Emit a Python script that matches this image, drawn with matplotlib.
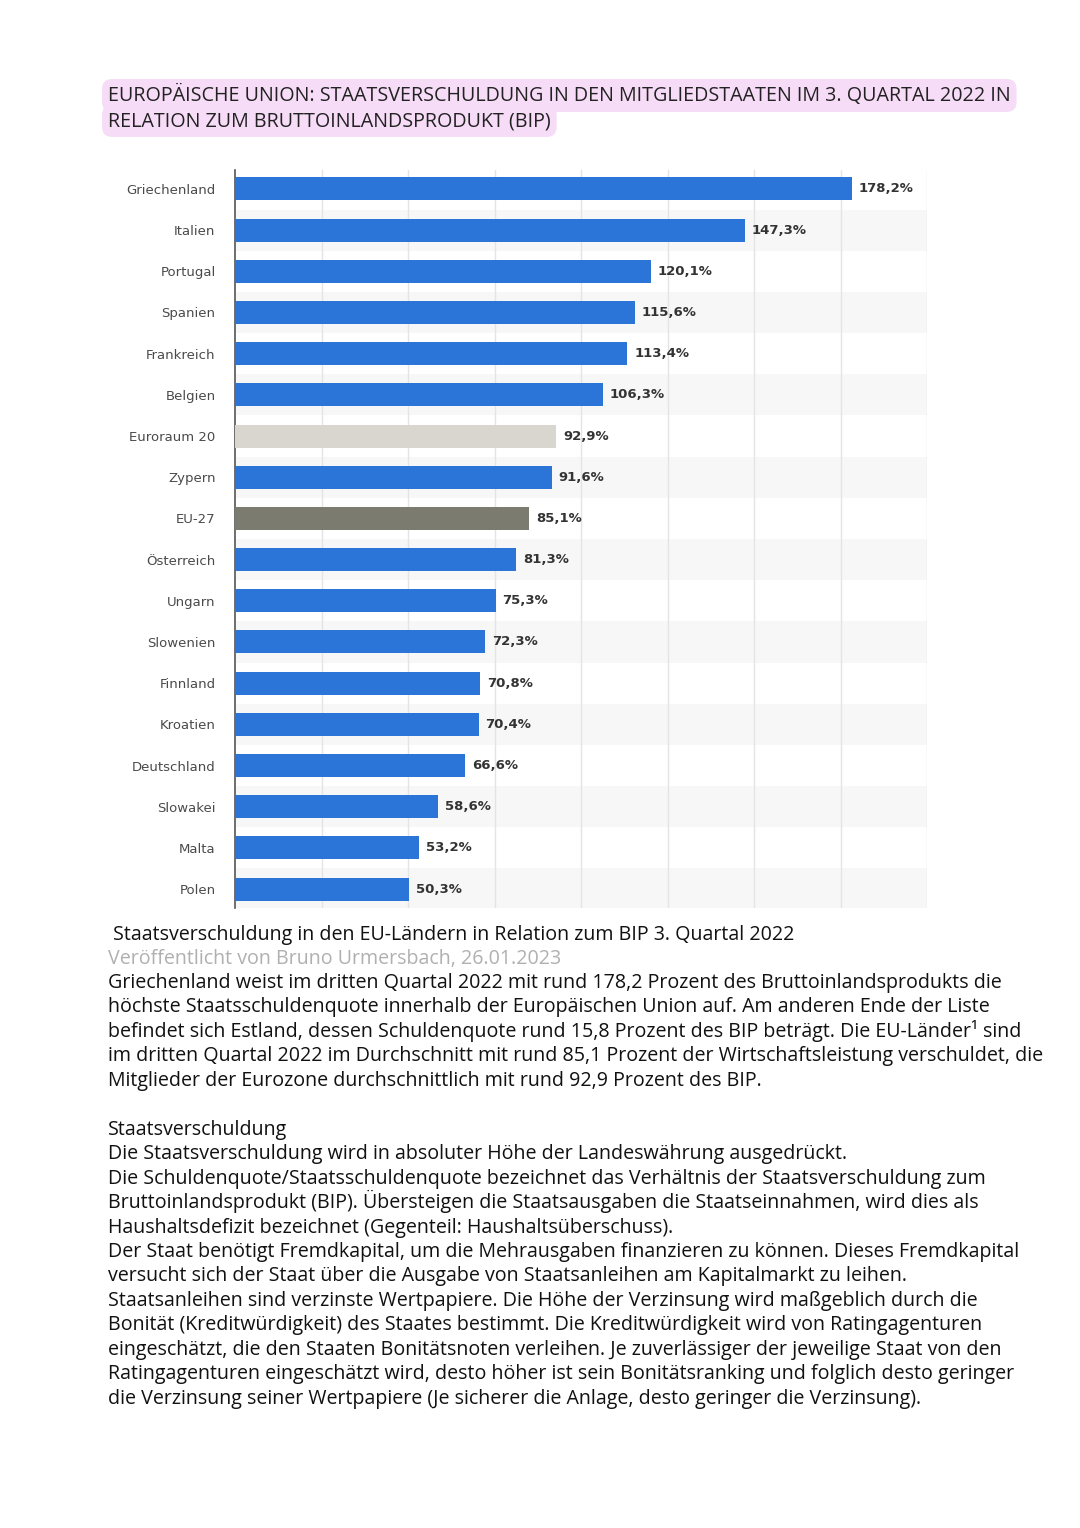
import matplotlib.pyplot as plt

countries = ["Griechenland", "Italien", "Portugal", "Spanien", "Frankreich", "Belgien",
             "Euroraum 20", "Zypern", "EU-27", "Österreich", "Ungarn", "Slowenien",
             "Finnland", "Kroatien", "Deutschland", "Slowakei", "Malta", "Polen"]
values = [178.2, 147.3, 120.1, 115.6, 113.4, 106.3, 92.9, 91.6, 85.1, 81.3,
          75.3, 72.3, 70.8, 70.4, 66.6, 58.6, 53.2, 50.3]

title_lines = ["EUROPÄISCHE UNION: STAATSVERSCHULDUNG IN DEN MITGLIEDSTAATEN IM 3. QUARTAL 2022 IN",
               "RELATION ZUM BRUTTOINLANDSPRODUKT (BIP)"]
caption = "Staatsverschuldung in den EU-Ländern in Relation zum BIP 3. Quartal 2022"
byline = "Veröffentlicht von Bruno Urmersbach, 26.01.2023"
body = [
    "Griechenland weist im dritten Quartal 2022 mit rund 178,2 Prozent des Bruttoinlandsprodukts die",
    "höchste Staatsschuldenquote innerhalb der Europäischen Union auf. Am anderen Ende der Liste",
    "befindet sich Estland, dessen Schuldenquote rund 15,8 Prozent des BIP beträgt. Die EU-Länder¹ sind",
    "im dritten Quartal 2022 im Durchschnitt mit rund 85,1 Prozent der Wirtschaftsleistung verschuldet, die",
    "Mitglieder der Eurozone durchschnittlich mit rund 92,9 Prozent des BIP.",
    "",
    "Staatsverschuldung",
    "Die Staatsverschuldung wird in absoluter Höhe der Landeswährung ausgedrückt.",
    "Die Schuldenquote/Staatsschuldenquote bezeichnet das Verhältnis der Staatsverschuldung zum",
    "Bruttoinlandsprodukt (BIP). Übersteigen die Staatsausgaben die Staatseinnahmen, wird dies als",
    "Haushaltsdefizit bezeichnet (Gegenteil: Haushaltsüberschuss).",
    "Der Staat benötigt Fremdkapital, um die Mehrausgaben finanzieren zu können. Dieses Fremdkapital",
    "versucht sich der Staat über die Ausgabe von Staatsanleihen am Kapitalmarkt zu leihen.",
    "Staatsanleihen sind verzinste Wertpapiere. Die Höhe der Verzinsung wird maßgeblich durch die",
    "Bonität (Kreditwürdigkeit) des Staates bestimmt. Die Kreditwürdigkeit wird von Ratingagenturen",
    "eingeschätzt, die den Staaten Bonitätsnoten verleihen. Je zuverlässiger der jeweilige Staat von den",
    "Ratingagenturen eingeschätzt wird, desto höher ist sein Bonitätsranking und folglich desto geringer",
    "die Verzinsung seiner Wertpapiere (Je sicherer die Anlage, desto geringer die Verzinsung).",
]

colors = []
for c in countries:
    if c == "Euroraum 20":
        colors.append("#d8d6cf")
    elif c == "EU-27":
        colors.append("#7b7b70")
    else:
        colors.append("#2b74d8")

fig = plt.figure(figsize=(10.8, 15.28), dpi=100)
W, H = 1080, 1528

# title with pink highlight
for i, line in enumerate(title_lines):
    fig.text(108 / W, 1 - (101 + 25 * i) / H, line, fontsize=14.2, family="Open Sans",
             color="#222222", va="baseline", ha="left",
             bbox=dict(boxstyle="round,pad=0.3,rounding_size=0.5", fc="#f7dcf7", ec="none"))

ax = fig.add_axes([235 / W, 1 - 908 / H, 692 / W, 738 / H])
y = list(range(len(countries)))
for i in y:
    if i % 2 == 1:
        ax.axhspan(i - 0.5, i + 0.5, color="#f7f7f7", zorder=0, lw=0)
ax.barh(y, values, height=0.56, color=colors, zorder=3)
for i, v in enumerate(values):
    ax.text(v + 2, i, f"{v:.1f}%".replace(".", ","), va="center", ha="left",
            fontsize=9.5, fontweight="bold", color="#333333", family="DejaVu Sans")

ax.set_xlim(0, 200)
ax.set_ylim(len(countries) - 0.54, -0.46)
ax.set_xticks([25, 50, 75, 100, 125, 150, 175, 200])
ax.xaxis.grid(True, color="#e4e4e4", lw=1, zorder=1)
ax.tick_params(axis="x", bottom=False, labelbottom=False)
ax.set_yticks(y)
ax.set_yticklabels(countries, fontsize=9.5, color="#4a4a4a", family="DejaVu Sans")
ax.tick_params(axis="y", length=0, pad=14)
for s in ["top", "right", "bottom"]:
    ax.spines[s].set_visible(False)
ax.spines["left"].set_color("#555555")
ax.spines["left"].set_linewidth(1.2)
ax.set_axisbelow(True)

# caption and body text
fs = 14.1
fig.text(113 / W, 1 - 940 / H, caption, fontsize=fs, family="Open Sans",
         color="#111111", va="baseline")
fig.text(108 / W, 1 - 964 / H, byline, fontsize=fs, family="Open Sans",
         color="#b0b0b0", va="baseline")
for k, line in enumerate(body):
    fig.text(108 / W, 1 - (988 + 24.45 * k) / H, line, fontsize=fs, family="Open Sans",
             color="#111111", va="baseline")

fig.savefig("out.png", dpi=100, facecolor="white")
